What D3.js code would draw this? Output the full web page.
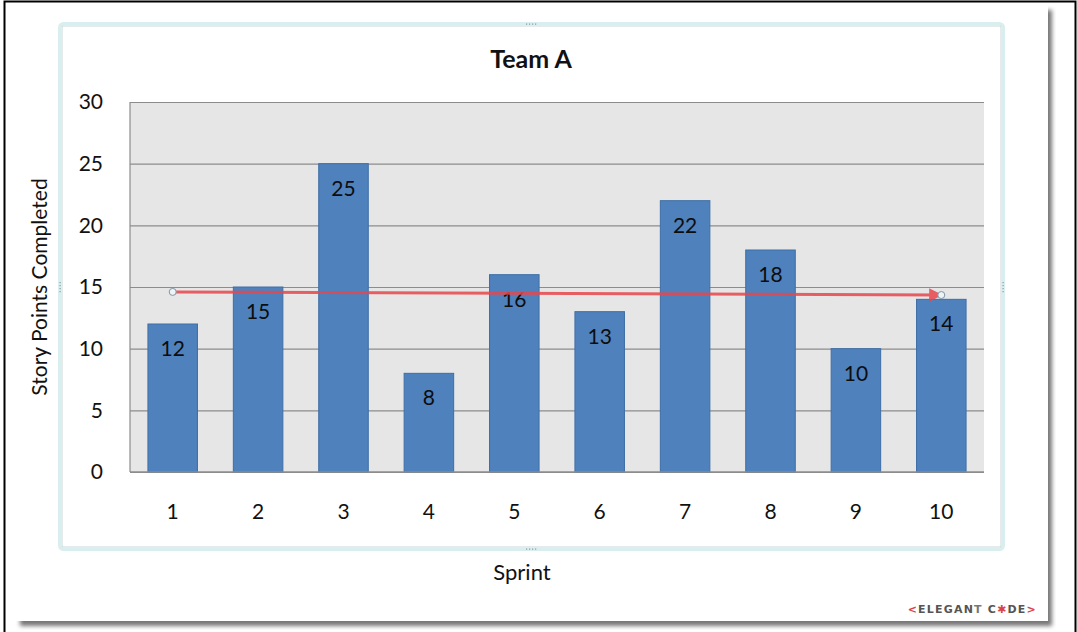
<!DOCTYPE html>
<html>
<head>
<meta charset="utf-8">
<script src="https://cdn.jsdelivr.net/npm/d3@7"></script>
<style>
  body { margin: 0; background: #fff; }
  svg { display: block; font-family: Lato, "Open Sans", sans-serif; }
</style>
</head>
<body>
<div id="chart"></div>
<script>
// Chart data
const sprints = [1, 2, 3, 4, 5, 6, 7, 8, 9, 10];
const points = [12, 15, 25, 8, 16, 13, 22, 18, 10, 14];
const yTicks = [0, 5, 10, 15, 20, 25, 30];
// hand drawn arrow across the bars (sprint, value)
const arrowStart = [1, 14.6];
const arrowEnd = [10, 14.35];

const width = 1077;
const height = 632;
const plot = {left: 130, right: 984, top: 102, bottom: 472};

const svg = d3.select("#chart")
  .append("svg")
  .attr("width", width)
  .attr("height", height);

const defs = svg.append("defs");
defs.append("filter").attr("id", "blur")
  .append("feGaussianBlur").attr("stdDeviation", 2);
defs.append("marker")
  .attr("id", "head")
  .attr("viewBox", "0 0 10 10")
  .attr("refX", 9).attr("refY", 5)
  .attr("markerWidth", 5.5).attr("markerHeight", 4.5)
  .attr("orient", "auto")
  .append("path")
  .attr("d", "M0,0 L10,5 L0,10 Z")
  .attr("fill", "#e8474c");

/* page frame + shadow */
svg.append("rect")
  .attr("x", 20).attr("y", 10).attr("width", 1032).attr("height", 616)
  .attr("fill", "#777").attr("filter", "url(#blur)");
svg.append("rect")
  .attr("x", 4).attr("y", 1).attr("width", 1044).attr("height", 620)
  .attr("fill", "#fff");
svg.append("path")
  .attr("d", "M4.5,632 V1.5 H1075.5 V632")
  .attr("fill", "none").attr("stroke", "#000").attr("stroke-width", 2);
svg.append("rect").attr("x", 1056).attr("y", 4).attr("width", 18).attr("height", 628).attr("fill", "#fff");

/* chart object frame (light cyan) */
svg.append("rect")
  .attr("x", 59.5).attr("y", 23.5).attr("width", 944).attr("height", 526).attr("rx", 4)
  .attr("fill", "none").attr("stroke", "#d9eeee").attr("stroke-width", 3);
svg.append("rect")
  .attr("x", 62).attr("y", 26).attr("width", 939).attr("height", 521)
  .attr("fill", "#fff").attr("stroke", "#bfcaca").attr("stroke-width", 0.8);

// small grip dots on the frame
const grips = [[531, 24, "h"], [531, 549, "h"], [60, 287, "v"], [1003, 287, "v"]];
grips.forEach(g => {
  for (let k = -3; k <= 3; k += 2) {
    svg.append("rect")
      .attr("x", g[2] === "h" ? g[0] + k * 1.5 - 0.5 : g[0] - 0.5)
      .attr("y", g[2] === "h" ? g[1] - 0.5 : g[1] + k * 1.5 - 0.5)
      .attr("width", 1.2).attr("height", 1.2).attr("fill", "#8a9aa0");
  }
});

/* scales */
const x = d3.scaleBand()
  .domain(sprints)
  .range([plot.left, plot.right])
  .paddingInner(0.42)
  .paddingOuter(0.21);

const y = d3.scaleLinear()
  .domain([0, 30])
  .range([plot.bottom, plot.top]);

// plot background
svg.append("rect")
  .attr("x", plot.left).attr("y", plot.top)
  .attr("width", plot.right - plot.left).attr("height", plot.bottom - plot.top)
  .attr("fill", "#e6e6e6");

// gridlines
svg.append("g")
  .attr("transform", `translate(${plot.left},0)`)
  .call(d3.axisLeft(y).tickValues(yTicks).tickSize(-(plot.right - plot.left)).tickFormat(""))
  .call(g => g.select(".domain").remove())
  .call(g => g.selectAll("line").attr("stroke", "#8c8c8c").attr("stroke-width", 1.2));

svg.append("line")
  .attr("x1", plot.left).attr("x2", plot.left)
  .attr("y1", plot.top).attr("y2", plot.bottom)
  .attr("stroke", "#8c8c8c").attr("stroke-width", 1.2);

// y tick labels
svg.append("g")
  .attr("transform", `translate(${plot.left},0)`)
  .call(d3.axisLeft(y).tickValues(yTicks).tickSize(0).tickPadding(27))
  .call(g => g.select(".domain").remove())
  .call(g => g.selectAll("text")
    .attr("font-size", 21).attr("fill", "#111").attr("font-family", "Lato, sans-serif"));

// x tick labels
svg.append("g")
  .attr("transform", `translate(0,${plot.bottom})`)
  .call(d3.axisBottom(x).tickSize(0).tickPadding(32))
  .call(g => g.select(".domain").remove())
  .call(g => g.selectAll("text")
    .attr("font-size", 21).attr("fill", "#111").attr("font-family", "Lato, sans-serif"));

/* bars */
svg.selectAll(".bar")
  .data(points)
  .enter()
  .append("rect")
  .attr("class", "bar")
  .attr("x", (d, i) => x(sprints[i]))
  .attr("y", d => y(d))
  .attr("width", x.bandwidth())
  .attr("height", d => plot.bottom - y(d))
  .attr("fill", "#4f81bd")
  .attr("stroke", "#3e6ea6")
  .attr("stroke-width", 1);

// value labels inside bars
svg.selectAll(".val")
  .data(points)
  .enter()
  .append("text")
  .attr("class", "val")
  .attr("x", (d, i) => x(sprints[i]) + x.bandwidth() / 2)
  .attr("y", d => y(d) + 32)
  .attr("text-anchor", "middle")
  .attr("font-size", 21)
  .attr("fill", "#0d0d0d")
  .text(d => d);

// bottom axis line
svg.append("line")
  .attr("x1", plot.left).attr("x2", plot.right)
  .attr("y1", plot.bottom).attr("y2", plot.bottom)
  .attr("stroke", "#8c8c8c").attr("stroke-width", 1.5);

/* red arrow */
const ax1 = x(arrowStart[0]) + x.bandwidth() / 2;
const ax2 = x(arrowEnd[0]) + x.bandwidth() / 2;
svg.append("line")
  .attr("x1", ax1).attr("y1", y(arrowStart[1]))
  .attr("x2", ax2).attr("y2", y(arrowEnd[1]))
  .attr("stroke", "#e8474c").attr("stroke-width", 3).attr("opacity", 0.85)
  .attr("marker-end", "url(#head)");
[[ax1, y(arrowStart[1])], [ax2, y(arrowEnd[1])]].forEach(p => {
  svg.append("circle")
    .attr("cx", p[0]).attr("cy", p[1]).attr("r", 3.5)
    .attr("fill", "#eef3f6").attr("stroke", "#7d95a8").attr("stroke-width", 1);
});

/* titles */
svg.append("text")
  .attr("x", 531).attr("y", 68)
  .attr("text-anchor", "middle")
  .attr("font-size", 25).attr("font-weight", "bold").attr("fill", "#111")
  .text("Team A");

svg.append("text")
  .attr("transform", "translate(47,287) rotate(-90)")
  .attr("text-anchor", "middle")
  .attr("font-size", 21).attr("fill", "#111")
  .text("Story Points Completed");

svg.append("text")
  .attr("x", 522).attr("y", 580)
  .attr("text-anchor", "middle")
  .attr("font-size", 22).attr("fill", "#111")
  .text("Sprint");

/* watermark */
const wm = svg.append("text")
  .attr("x", 1037).attr("y", 613)
  .attr("text-anchor", "end")
  .attr("font-size", 11).attr("font-weight", "bold")
  .attr("letter-spacing", 1.2)
  .attr("font-family", "'DejaVu Sans', sans-serif")
  .attr("fill", "#555");
wm.append("tspan").attr("fill", "#d9434b").text("<");
wm.append("tspan").text("ELEGAN");
wm.append("tspan").attr("fill", "#777").text("T");
wm.append("tspan").text(" C");
wm.append("tspan").attr("fill", "#d9434b").text("✱");
wm.append("tspan").text("DE");
wm.append("tspan").attr("fill", "#d9434b").text(">");
</script>
</body>
</html>
